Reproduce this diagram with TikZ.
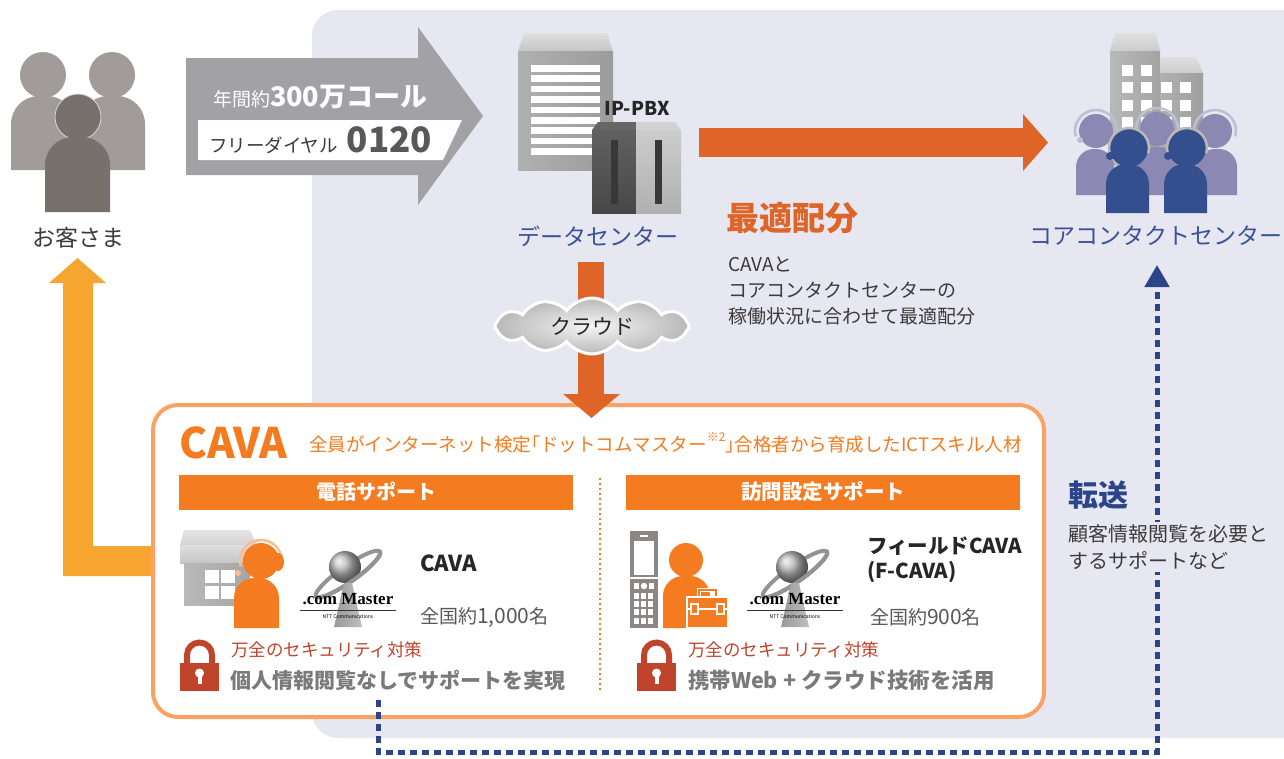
\documentclass[tikz,border=0pt]{standalone}
\usepackage{fontspec}
\setmainfont{Noto Sans CJK JP}
\newfontfamily\logofont{Liberation Serif}
\usetikzlibrary{shapes.symbols,arrows.meta}

\definecolor{panel}{HTML}{E6E7F0}
\definecolor{callgray}{HTML}{A2A2A6}
\definecolor{textdark}{HTML}{3E3A39}
\definecolor{labelblue}{HTML}{3B5297}
\definecolor{routeorange}{HTML}{DE6428}
\definecolor{cavaborder}{HTML}{F9A263}
\definecolor{barorange}{HTML}{F47B20}
\definecolor{returnorange}{HTML}{F7A531}
\definecolor{transferblue}{HTML}{2B4588}
\definecolor{lockred}{HTML}{C0432B}
\definecolor{bodygray}{HTML}{7A7A7A}
\definecolor{numgray}{HTML}{595757}
\definecolor{custback}{HTML}{A19B9A}
\definecolor{custfront}{HTML}{77716E}
\definecolor{agentback}{HTML}{8B89B4}
\definecolor{agentfront}{HTML}{344F8E}
\definecolor{phonegray}{HTML}{8C8786}

\newcommand\fsz[2]{\fontsize{#1}{#2}\selectfont}
% body with rounded shoulders: colour, x1, x2, top, bottom, radius
\newcommand\drawtorso[6]{\fill[#1] (#2,#5) [rounded corners=#6] -- (#2,#4) -- (#3,#4) [sharp corners] -- (#3,#5) -- cycle;}
% headset band: colour, cx, cy, radius, width
\newcommand\headband[5]{\draw[#1, line width=#5] (#2,#3) ++(165:#4) arc[start angle=165,end angle=375,radius=#4];}
% padlock with left edge at #1
\newcommand\padlock[1]{%
  \draw[lockred, line width=6pt] ({#1+7},666) -- ({#1+7},655) arc[start angle=180,end angle=360,radius=12.5] -- ({#1+32},666);
  \fill[lockred] (#1,663) rectangle ({#1+39},691);
  \fill[white] ({#1+19.5},673) circle (4.5);
  \fill[white] ({#1+17.5},673) rectangle ({#1+21.5},684);}
% .com Master emblem centred at x = #1
\newcommand\dotcomlogo[1]{%
  \draw[gray!85, line width=4pt, rotate around={35:(#1,574)}] (#1,574) ellipse [x radius=39, y radius=8];
  \shade[ball color=gray!55] ({#1-3},567) circle (16);
  \draw[gray!85, line width=4pt, rotate around={35:(#1,574)}] (#1,574) ++(39,0) arc[start angle=0,end angle=180,x radius=39,y radius=8];
  \shade[left color=gray!80, right color=gray!50] ({#1-4},583) -- ({#1+4},583) -- ({#1+14},627) -- ({#1-14},627) -- cycle;
  \node[font=\logofont\bfseries\fsz{17}{17}] at (#1,599) {.com Master};
  \draw[black!80, line width=0.8pt] ({#1-48},610) -- ({#1+48},610);
  \node[font=\fsz{5}{5}] at (#1,617) {NTT Communications};}

\begin{document}
\begin{tikzpicture}[x=1pt,y=-1pt, every node/.style={inner sep=0pt, outer sep=0pt}]
\useasboundingbox (0,0) rectangle (1284,758);
\clip (0,0) rectangle (1284,758);

% light service area
\fill[panel, rounded corners=26pt] (1330,10) -- (312,10) -- (312,738) -- (1330,738) -- cycle;

% return path from CAVA to the customers
\fill[returnorange] (153,546) -- (93,546) -- (93,283) -- (106,283) -- (77.5,258) -- (49,283) -- (63,283) -- (63,576) -- (153,576) -- cycle;

% customers
\fill[custback] (43,75) circle (23);
\fill[custback] (112,75) circle (23);
\drawtorso{custback}{11}{75}{96}{170}{28pt}
\drawtorso{custback}{80}{145}{96}{170}{28pt}
\fill[custfront, draw=white!60!custback, line width=0.8pt] (78,117) circle (23);
\drawtorso{custfront}{45}{110}{137}{212}{28pt}
\node[font=\fsz{23}{23}, text=textdark] (cust) at (78,238) {お客さま};

% incoming calls
\fill[callgray] (186,58) -- (418,58) -- (418,27) -- (483,116) -- (418,205) -- (418,175) -- (186,175) -- cycle;
\fill[white] (198,120) -- (462,120) -- (443,160) -- (198,160) -- cycle;
\node[anchor=west, text=white] (calls) at (213,97) {\fsz{19}{19}年間約\bfseries\fsz{27}{27}300万コール};
\node[anchor=west, text=textdark] (free) at (209,140) {\fsz{18.5}{19}フリーダイヤル\hspace{9pt}{\color{numgray}\bfseries\fsz{35}{35}0120}};

% data centre server
\shade[top color=gray!25, bottom color=gray!45] (518,51) -- (524,33) -- (607,33) -- (613,51) -- cycle;
\shade[left color=gray!62, right color=gray!78] (518,51) rectangle (613,170);
\foreach \i in {0,...,8} \fill[white] (531,{65+\i*10.4}) rectangle (600,{71.5+\i*10.4});
% IP-PBX unit
\fill[black!60] (592,130) -- (598,122) -- (636,122) -- (636,130) -- cycle;
\fill[gray!35] (636,130) -- (636,122) -- (675,122) -- (681,130) -- cycle;
\shade[top color=black!62, bottom color=black!72] (592,130) rectangle (636,213);
\shade[top color=gray!40, bottom color=gray!62] (636,130) rectangle (681,213);
\fill[black!78] (611,140) rectangle (618,204);
\fill[black!78] (655,140) rectangle (662,204);
\node[font=\bfseries\fsz{19}{19}, text=black!85] (pbx) at (637,108) {IP-PBX};
\node[font=\fsz{23}{23}, text=labelblue] (dc) at (598,236) {データセンター};

% distribution to the core contact centre
\fill[routeorange] (699,128) rectangle (1024,157);
\fill[routeorange] (1023,114) -- (1048,142.5) -- (1023,171) -- cycle;
\node[anchor=west, font=\bfseries\fsz{33}{33}, text=routeorange] (opt) at (726,218) {最適配分};
\node[anchor=west, align=left, font=\fsz{19}{26}, text=textdark] (optnote) at (728,291) {CAVAと\\コアコンタクトセンターの\\稼働状況に合わせて最適配分};

% core contact centre building
\shade[top color=gray!25, bottom color=gray!40] (1110,51) -- (1115,33) -- (1156,33) -- (1160,51) -- cycle;
\shade[left color=gray!55, right color=gray!72] (1110,51) rectangle (1160,165);
\shade[top color=gray!25, bottom color=gray!40] (1160,73) -- (1160,57) -- (1196,57) -- (1203,73) -- cycle;
\shade[left color=gray!62, right color=gray!75] (1160,73) rectangle (1203,165);
\foreach \c in {0,1} \fill[white] ({1122+\c*19.3},65) rectangle ({1133+\c*19.3},76);
\foreach \r in {1,2,3} \foreach \c in {0,...,3} \fill[white] ({1122+\c*19.3},{65+\r*17.3}) rectangle ({1133+\c*19.3},{76+\r*17.3});
% agents, back row
\fill[agentback] (1096,131) circle (17);
\fill[agentback] (1157,129) circle (17);
\fill[agentback] (1215,131) circle (17);
\drawtorso{agentback}{1076}{1114}{149}{195}{18pt}
\drawtorso{agentback}{1137}{1177}{147}{195}{18pt}
\drawtorso{agentback}{1197}{1237}{149}{195}{18pt}
\headband{agentback!55!white}{1096}{131}{21}{2.5pt}
\headband{agentback!55!white}{1157}{129}{21}{2.5pt}
\headband{agentback!55!white}{1215}{131}{21}{2.5pt}
\fill[agentback!55!white] (1080,140) circle (3);
% agents, front row
\fill[agentfront] (1129,148) circle (19);
\fill[agentfront] (1187,148) circle (19);
\drawtorso{agentfront}{1106}{1149}{164}{213}{20pt}
\drawtorso{agentfront}{1164}{1207}{164}{213}{20pt}
\headband{gray!55}{1129}{148}{20}{2.5pt}
\headband{gray!55}{1187}{148}{20}{2.5pt}
\fill[agentfront] (1110,156) circle (4);
\fill[agentfront] (1168,156) circle (4);
\node[font=\fsz{23}{23}, text=labelblue] (core) at (1156,236) {コアコンタクトセンター};

% CAVA frame
\draw[cavaborder, line width=4pt, fill=white, rounded corners=25pt] (153,405) rectangle (1044,717);
\node[anchor=west, font=\bfseries\fsz{42}{42}, text=barorange] (cava) at (179,443) {CAVA};
\node[anchor=west, font=\fsz{18.5}{19}, text=barorange] (cavasub) at (309,443) {全員がインターネット検定｢ドットコムマスター\raisebox{0.55em}{\fsz{12}{12}※2}｣合格者から育成したICTスキル人材};
\draw[barorange, line width=2pt, dash pattern=on 2pt off 3pt] (600,478) -- (600,693);

% telephone support
\fill[barorange] (179,475) rectangle (573,510);
\node[font=\bfseries\fsz{20}{20}, text=white] (tel) at (376,492) {電話サポート};
\shade[top color=gray!20, bottom color=gray!35] (180,545) -- (184,530) -- (250,530) -- (257,545) -- cycle;
\shade[top color=gray!25, bottom color=gray!45] (180,545) rectangle (257,563);
\shade[left color=gray!55, right color=gray!70] (184,563) rectangle (250,605);
\foreach \r in {0,1} \foreach \c in {0,1} \fill[white] ({205+\c*16},{570+\r*16}) rectangle ({219+\c*16},{583+\r*16});
\fill[barorange] (261,561) circle (18);
\drawtorso{barorange}{234}{279}{578}{628}{20pt}
\headband{cavaborder!70!white}{261}{561}{21}{2.5pt}
\fill[barorange] (278,562) ellipse [x radius=6, y radius=9];
\fill[cavaborder!70!white] (238,573) circle (3);
\dotcomlogo{348}
\node[anchor=west, font=\bfseries\fsz{22}{22}, text=black!85] (cavaname) at (420,563) {CAVA};
\node[anchor=west, font=\fsz{19}{19}, text=numgray] (cavanum) at (420,617) {全国約\fsz{21}{21}1,000\fsz{19}{19}名};
\padlock{180}
\node[anchor=west, font=\fsz{17.5}{18}, text=lockred] (sec1) at (231,650) {万全のセキュリティ対策};
\node[anchor=west, font=\bfseries\fsz{21}{21}, text=bodygray] (priv) at (230,680) {個人情報閲覧なしでサポートを実現};

% on-site support
\fill[barorange] (626,475) rectangle (1020,510);
\node[font=\bfseries\fsz{20.5}{21}, text=white] (visit) at (823,492) {訪問設定サポート};
\fill[phonegray] (630,531) rectangle (658,628);
\fill[white] (634,541) rectangle (654,575);
\fill[white] (640,534.5) rectangle (648,536.5);
\fill[white] (630,577) rectangle (658,578.5);
\fill[white] (644,586) circle (3.2);
\fill[white] (634,583) rectangle (639,589);
\fill[white] (649,583) rectangle (654,589);
\foreach \r in {0,...,3} \foreach \c in {0,1,2} \fill[white] ({634+\c*7},{593+\r*8.2}) rectangle ({639+\c*7},{599+\r*8.2});
\fill[barorange] (686,560) circle (17);
\drawtorso{barorange}{663}{710}{576}{628}{20pt}
\draw[white, line width=4pt] (699,598) -- (699,590) -- (716,590) -- (716,598);
\draw[barorange, line width=1.5pt] (699,598) -- (699,590) -- (716,590) -- (716,598);
\draw[white, line width=1.5pt, fill=barorange] (687,597) rectangle (728,628);
\draw[white, line width=1.5pt] (687,609) -- (728,609);
\draw[white, line width=1.5pt, fill=barorange] (691,604) rectangle (698,614);
\draw[white, line width=1.5pt, fill=barorange] (717,604) rectangle (724,614);
\dotcomlogo{795}
\node[anchor=west, align=left, font=\bfseries\fsz{20.5}{25}, text=black!85] (fcava) at (867,560) {フィールドCAVA\\(F-CAVA)};
\node[anchor=west, font=\fsz{19}{19}, text=numgray] (fcavanum) at (870,617) {全国約\fsz{21}{21}900\fsz{19}{19}名};
\padlock{637}
\node[anchor=west, font=\fsz{17.5}{18}, text=lockred] (sec2) at (688,650) {万全のセキュリティ対策};
\node[anchor=west, font=\bfseries\fsz{21.5}{22}, text=bodygray] (web) at (688,680) {携帯Web\hspace{5pt}+\hspace{5pt}クラウド技術を活用};

% cloud routing from the data centre down to CAVA
\fill[routeorange] (578,262) rectangle (604,396);
\fill[routeorange] (563,394) -- (620,394) -- (591.5,418) -- cycle;
\node[cloud, cloud puffs=12, cloud puff arc=105, aspect=3.4, minimum width=194pt, minimum height=56pt,
      draw=white, line width=3pt, shading=radial, inner color=white!92!gray, outer color=gray!55] (cloud) at (592,326) {};
\node[font=\fsz{21}{21}, text=black!85] (cloudlabel) at (cloud.center) {クラウド};

% transfer to the core contact centre
\coordinate (xfer0) at (378,700);
\coordinate (xfer1) at (378,752);
\coordinate (xfer2) at (1157,752);
\coordinate (xfer3) at (1157,265);
\draw[transferblue, line width=5pt, dash pattern=on 7pt off 5pt, -{Triangle[width=24pt,length=22pt,sep=0pt]}]
  (xfer0) -- (xfer1) -- (xfer2) -- (xfer3);
\node[anchor=west, font=\bfseries\fsz{30}{30}, text=transferblue] (xfer) at (1068,495) {転送};
\node[anchor=west, align=left, fill=panel, inner sep=3pt, font=\fsz{20}{27}, text=textdark] (xfernote) at (1065,547) {顧客情報閲覧を必要と\\するサポートなど};
\end{tikzpicture}
\end{document}
